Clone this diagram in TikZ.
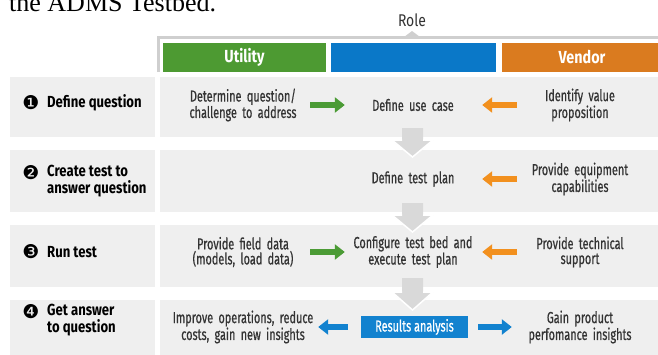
\documentclass[tikz,border=0pt]{standalone}
\usepackage{fontspec}
\setmainfont[FakeStretch=0.68, UprightFeatures={FakeBold=0.6}]{Fira Sans}
\newfontfamily\stagefont[FakeStretch=0.82]{Fira Sans}
\newfontfamily\capfont{Liberation Serif}
\newfontfamily\numfont{DejaVu Sans}
\usepackage{tikz}
\usetikzlibrary{arrows.meta,positioning}

\definecolor{utilgreen}{HTML}{4D9A32}
\definecolor{rolblue}{HTML}{0A78C8}
\definecolor{vendorange}{HTML}{DA7B1F}
\definecolor{arrorange}{HTML}{F2901E}
\definecolor{arrgreen}{HTML}{4B9B35}
\definecolor{arrblue}{HTML}{1282CF}
\definecolor{panelgrey}{HTML}{EFEFEF}
\definecolor{flowgrey}{HTML}{D9D9D9}
\definecolor{linegrey}{HTML}{CFCFCF}
\definecolor{txtgrey}{HTML}{333333}

% grey block arrow between two rows: shaft top, head base, tip
\newcommand{\stepdown}[3]{%
  \fill[flowgrey] (402,#1) -- (423,#1) -- (423,#2) -- (433,#2) -- (412.5,#3) -- (392,#2) -- (402,#2) -- cycle;
  \draw[white, line width=1.5pt] (402,#2) -- (392,#2) -- (412.5,#3) -- (433,#2) -- (423,#2);}

\begin{document}
\begin{tikzpicture}[x=1pt,y=-1pt,text=txtgrey,font=\fontsize{16}{15}\selectfont]
		\tikzstyle{panel}=[fill=panelgrey]
		\tikzstyle{hdr}=[minimum height=29pt, inner sep=0pt, text=white, font=\stagefont\bfseries\fontsize{17.5}{17.5}\selectfont]
		\tikzstyle{cell}=[inner sep=0pt, align=center, text width=120pt, execute at begin node={\hyphenpenalty=10000\relax}]
		\tikzstyle{stage}=[anchor=west, inner sep=0pt, align=left, text=black, font=\stagefont\bfseries\fontsize{16}{17}\selectfont]
		\tikzstyle{num}=[inner sep=0pt, text=black, font=\numfont\fontsize{19}{19}\selectfont]
		\tikzstyle{blk}=[line width=6pt, -{Triangle[width=15pt,length=10pt]}]
		
		\path[use as bounding box] (0,0) rectangle (658,354);
		\clip (0,0) rectangle (658,354);
		
		\node[anchor=base west, inner sep=0pt, text=black, font=\capfont\fontsize{26}{26}\selectfont] (cap) at (9,11) {the ADMS Testbed.};
		
		% role bracket
		\draw[linegrey, line width=3pt] (158,72) -- (158,37) -- (662,37);
		\fill[linegrey] (404,37) -- (412,31) -- (420,37) -- cycle;
		\node[anchor=base, inner sep=0pt, font=\stagefont\fontsize{17}{17}\selectfont] (role) at (412,26) {Role};
		
		\node[hdr, fill=utilgreen, minimum width=163pt]  (util) at (244.5,57.5) {Utility};
		\node[hdr, fill=rolblue, minimum width=165pt]    (lab)  at (413.5,57.5) {};
		\node[hdr, fill=vendorange, minimum width=160pt] (vend) at (582,57.5)   {Vendor};
		
		% row panels
		\foreach \top/\bot in {77/137, 150/212, 225/287, 300/362}{
			\fill[panel] (10,\top) rectangle (155,\bot);
			\fill[panel] (160,\top) rectangle (662,\bot);
		}
		
		\stepdown{128}{140}{157}
		\stepdown{203}{215}{232}
		\stepdown{278}{292}{310}
		
		% stages
		\node[num] (n1) at (31,103) {❶};
		\node[stage] (s1) at (47,103) {Define question};
		\node[num] (n2) at (31,173) {❷};
		\node[stage] (s2) at (47,181) {Create test to\\answer question};
		\node[num] (n3) at (31,252) {❸};
		\node[stage] (s3) at (47,252) {Run test};
		\node[num] (n4) at (31,312) {❹};
		\node[stage] (s4) at (47,320) {Get answer\\to question};
		
		% row 1
		\node[cell] (u1) at (243,105) {Determine question/\\challenge to address};
		\node[cell] (c1) at (413,105) {Define use case};
		\node[cell, text width=116pt] (v1) at (580,105) {Identify value\\proposition};
		% row 2
		\node[cell] (c2) at (413,179) {Define test plan};
		\node[cell, text width=116pt] (v2) at (580,179) {Provide equipment\\capabilities};
		% row 3
		\node[cell] (u3) at (243,252) {Provide field data\\(models, load data)};
		\node[cell] (c3) at (413,252) {Configure test bed and\\execute test plan};
		\node[cell, text width=116pt] (v3) at (580,252) {Provide technical\\support};
		% row 4
		\node[cell, text width=150pt] (u4) at (243,327) {Improve operations, reduce\\costs, gain new insights};
		\node[fill=arrblue, text=white, minimum width=107pt, minimum height=22pt, inner sep=0pt] (c4) at (414.5,327) {Results analysis};
		\node[cell, text width=116pt] (v4) at (580,327) {Gain product\\perfomance insights};
		
		\path (u1.east) edge[blk, draw=arrgreen, shorten <=7pt, shorten >=8pt] (c1.west);
		\path (v1.west) edge[blk, draw=arrorange, shorten <=5pt, shorten >=9pt] (c1.east);
		\path (v2.west) edge[blk, draw=arrorange, shorten <=5pt, shorten >=9pt] (c2.east);
		\path (u3.east) edge[blk, draw=arrgreen, shorten <=7pt, shorten >=8pt] (c3.west);
		\path (v3.west) edge[blk, draw=arrorange, shorten <=5pt, shorten >=9pt] (c3.east);
		\path (c4.west) edge[blk, draw=arrblue, shorten <=13pt, shorten >=0pt] (u4.east);
		\path (c4.east) edge[blk, draw=arrblue, shorten <=10pt, shorten >=10pt] (v4.west);
		\end{tikzpicture}
\end{document}
